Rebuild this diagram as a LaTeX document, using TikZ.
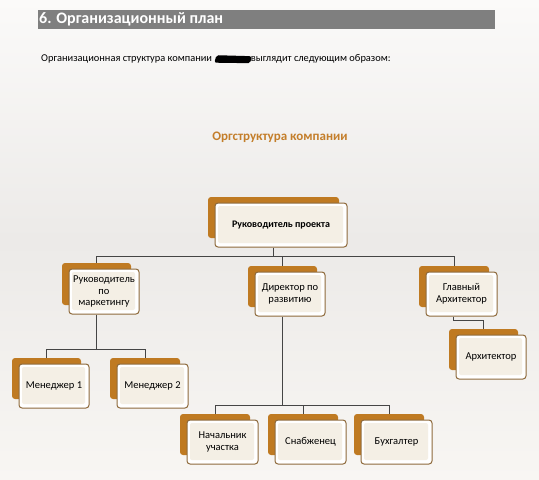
\documentclass[tikz,border=0pt]{standalone}
\usepackage{fontspec}
\setmainfont{Carlito}
\usetikzlibrary{calc}
\definecolor{hdrgray}{HTML}{7F7F7F}
\definecolor{orgorange}{HTML}{BF7A22}
\definecolor{titleorange}{HTML}{C47E2B}
\definecolor{boxborder}{HTML}{8E6A3C}
\definecolor{boxcream}{HTML}{F4EFE5}
\definecolor{linegray}{HTML}{454545}
\definecolor{bgtop}{HTML}{FBFAF9}
\definecolor{bgmid}{HTML}{ECEAE8}
\definecolor{bgbot}{HTML}{F8F6F3}
\tikzset{
  backbox/.style={fill=orgorange, rounded corners=3pt, inner sep=0pt},
  frontbox/.style={fill=white, draw=boxborder, line width=1pt, rounded corners=3pt,
    inner sep=1pt, align=center,
    path picture={\fill[boxcream, rounded corners=2pt]
      ([shift={(3pt,-3pt)}]path picture bounding box.north west) rectangle
      ([shift={(-4pt,4pt)}]path picture bounding box.south east);}},
  conn/.style={draw=linegray, line width=1pt}
}
% #1 name, #2 cx, #3 cy, #4 w, #5 h, #6 text, #7 font
\newcommand\orgbox[7]{%
  \pgfmathsetmacro\obw{#4-1}\pgfmathsetmacro\obh{#5-3}%
  \node[backbox, minimum width=\obw pt, minimum height=\obh pt] (#1b) at (#2-7.5,#3-7.5) {};
  \node[frontbox, minimum width=#4pt, minimum height=#5pt, font=#7] (#1) at (#2,#3) {#6};
}
\newcommand\regfont{\fontsize{10.5}{11.5}\selectfont}
\begin{document}
\begin{tikzpicture}[x=1pt,y=-1pt]
\shade[top color=bgtop, bottom color=bgbot, middle color=bgmid, shading=axis] (0,0) rectangle (539,480);
\useasboundingbox (0,0) rectangle (539,480);
% header
\node[fill=hdrgray, minimum width=457pt, minimum height=19pt, inner sep=0pt, anchor=north west] (hdr) at (38,10) {};
\node[anchor=west, text=white, font=\fontsize{16}{18}\selectfont\bfseries, inner sep=0pt] (hdrtext) at (39,19.5) {6. Организационный план};
\node[anchor=west, font=\fontsize{10.4}{12}\selectfont, inner sep=0pt] (intro) at (41,59)
  {Организационная структура компании \tikz[baseline=0pt]\fill[black, rounded corners=2pt] (0,-1pt) -- (36pt,-1.5pt) -- (37pt,5.5pt) -- (2pt,6.5pt) -- cycle;\hspace{-0.5pt}выглядит следующим образом:};
\node[text=titleorange, font=\fontsize{13}{15}\selectfont\bfseries, inner sep=0pt] (title) at (280,137) {Оргструктура компании};
% boxes
\orgbox{top}{281}{225}{132}{44}{Руководитель проекта}{\fontsize{10}{11.5}\selectfont\bfseries}
\orgbox{mkt}{104}{291.5}{70}{45}{Руководитель\\по\\маркетингу}{\regfont}
\orgbox{dir}{290}{294}{70}{44}{Директор по\\развитию}{\regfont}
\orgbox{chief}{461.5}{294}{71}{44}{Главный\\Архитектор}{\regfont}
\orgbox{arch}{491}{357}{70}{44}{Архитектор}{\regfont}
\orgbox{mone}{54}{386}{70}{44}{Менеджер 1}{\regfont}
\orgbox{mtwo}{152.5}{386}{71}{44}{Менеджер 2}{\regfont}
\orgbox{nach}{222.5}{442}{71}{44}{Начальник\\участка}{\regfont}
\orgbox{snab}{310.5}{442}{71}{44}{Снабженец}{\regfont}
\orgbox{buh}{396.5}{442}{71}{44}{Бухгалтер}{\regfont}
% connectors
\draw[conn] ([xshift=-8pt]top.south) -- ++(0,9) coordinate (bus1);
\draw[conn] (bus1) -| (mktb.north);
\draw[conn] (bus1) -| (dirb.north);
\draw[conn] (bus1) -| (chiefb.north);
\draw[conn] ([xshift=-8pt]mkt.south) -- ++(0,35) coordinate (bus2);
\draw[conn] (bus2) -| (moneb.north);
\draw[conn] (bus2) -| (mtwob.north);
\draw[conn] ([xshift=-8pt]dir.south) -- ++(0,89) coordinate (bus3);
\draw[conn] (bus3) -| (nachb.north);
\draw[conn] (bus3) -| (snabb.north);
\draw[conn] (bus3) -| (buhb.north);
\draw[conn] ([xshift=-8.5pt]chief.south) -- ++(0,4) coordinate (bus4);
\draw[conn] (bus4) -| (archb.north);
\end{tikzpicture}
\end{document}
